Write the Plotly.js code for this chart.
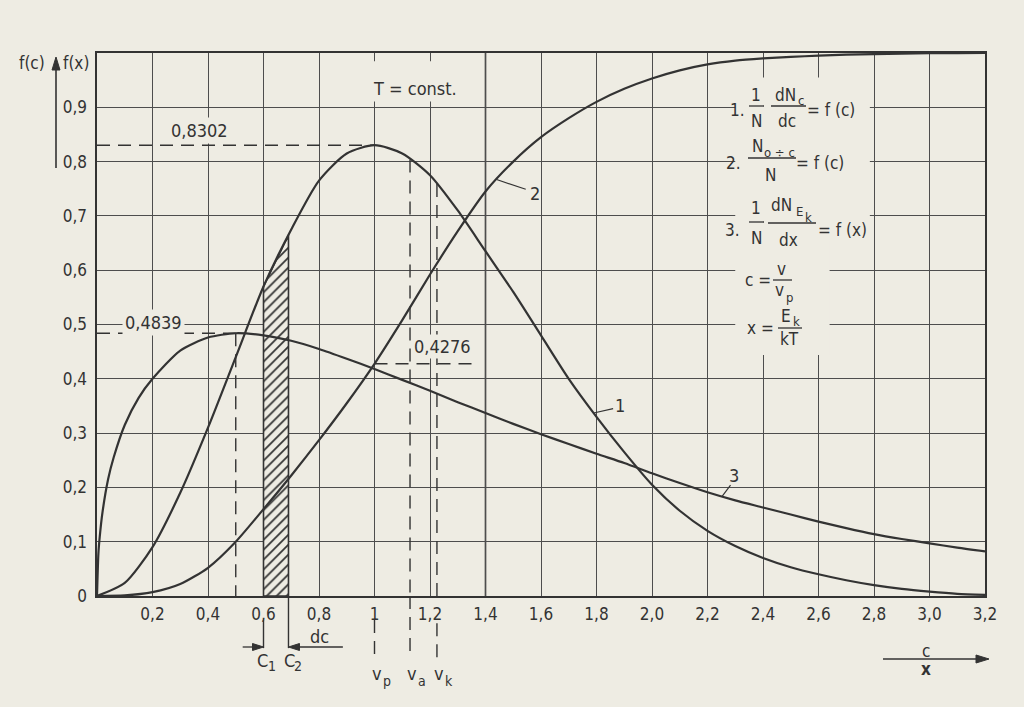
<!DOCTYPE html>
<html>
<head>
<meta charset="utf-8">
<script src="https://cdn.plot.ly/plotly-3.0.1.min.js"></script>
<style>html,body{margin:0;padding:0;background:#eeece3;}#chart{width:1024px;height:707px;}</style>
</head>
<body>
<div id="chart"></div>
<script>
// ---------------- data ----------------
const cVals = [0,0.1,0.2,0.3,0.4,0.5,0.6,0.7,0.8,0.9,1.0,1.1,1.2,1.3,1.4,1.5,1.6,1.7,1.8,1.9,2.0,2.1,2.2,2.3,2.4,2.5,2.6,2.7,2.8,2.9,3.0,3.1,3.2];
// curve 1: (1/N) dNc/dc = f(c)
const f1Vals = [0,0.024,0.09,0.19,0.31,0.44,0.57,0.675,0.765,0.815,0.8302,0.815,0.775,0.71,0.635,0.56,0.48,0.40,0.33,0.265,0.205,0.157,0.12,0.092,0.07,0.053,0.04,0.029,0.02,0.013,0.008,0.004,0.002];
// curve 2: N(0÷c)/N = f(c)
const f2Vals = [0,0.001,0.007,0.022,0.052,0.10,0.16,0.222,0.287,0.355,0.4276,0.508,0.592,0.672,0.745,0.80,0.845,0.88,0.91,0.934,0.953,0.968,0.979,0.986,0.99,0.993,0.995,0.997,0.998,0.999,0.9995,0.9998,1.0];
// curve 3: (1/N) dN_Ek/dx = f(x)
const xVals = [0,0.005,0.01,0.02,0.04,0.06,0.1,0.15,0.2,0.3,0.4,0.5,0.6,0.7,0.8,0.9,1.0,1.1,1.2,1.3,1.4,1.5,1.6,1.7,1.8,1.9,2.0,2.1,2.2,2.3,2.4,2.5,2.6,2.7,2.8,2.9,3.0,3.1,3.2];
const f3Vals = [0,0.078,0.11,0.155,0.215,0.255,0.315,0.365,0.4,0.452,0.476,0.4839,0.48,0.47,0.455,0.437,0.418,0.398,0.378,0.357,0.337,0.317,0.298,0.28,0.262,0.245,0.226,0.208,0.191,0.176,0.163,0.15,0.137,0.125,0.114,0.105,0.097,0.089,0.082];

const xTickVals = [0.2,0.4,0.6,0.8,1.0,1.2,1.4,1.6,1.8,2.0,2.2,2.4,2.6,2.8,3.0,3.2];
const xTickText = ['0,2','0,4','0,6','0,8','1','1,2','1,4','1,6','1,8','2,0','2,2','2,4','2,6','2,8','3,0','3,2'];
const yTickVals = [0,0.1,0.2,0.3,0.4,0.5,0.6,0.7,0.8,0.9];
const yTickText = ['0','0,1','0,2','0,3','0,4','0,5','0,6','0,7','0,8','0,9'];

// marked values
const peak1 = 0.8302, peak1At = 1.0;
const peak3 = 0.4839, peak3At = 0.5;
const f2AtVp = 0.4276;
const vA = 1.128, vK = 1.225;
const cOne = 0.6, cTwo = 0.69;

// ---------------- styling ----------------
const BG = '#eeece3';
const INK = '#333333';
const GRID = '#4d4d4d';
const FONT = 'DejaVu Sans Condensed, DejaVu Sans, sans-serif';
const L = 97, R = 985, T = 53, B = 596, W = R - L, H = B - T;
const XMAX = 3.2;
const DASH = '13px,8px';

function interp(xs, ys, x) {
  for (let i = 0; i < xs.length - 1; i++) {
    if (x >= xs[i] && x <= xs[i + 1]) {
      const t = (x - xs[i]) / (xs[i + 1] - xs[i]);
      return ys[i] + t * (ys[i + 1] - ys[i]);
    }
  }
  return ys[ys.length - 1];
}
const px = p => (p - L) / W;
const py = p => (B - p) / H;
const dataToPx = x => L + x / XMAX * W;

const annotations = [];
const shapes = [];
const MAIN = {family: FONT, size: 17, color: INK};
const SM = {family: FONT, size: 13, color: INK};
function txt(x, y, text, o = {}) {
  annotations.push(Object.assign({
    xref: 'paper', yref: 'paper', x: px(x), y: py(y), text: text, showarrow: false,
    xanchor: 'center', yanchor: 'middle', font: MAIN
  }, o));
}
function stxt(x, y, text) { txt(x, y, text, {font: SM}); }
function pline(x1, x2, y) {
  shapes.push({type: 'line', xref: 'paper', yref: 'paper', x0: px(x1), x1: px(x2), y0: py(y), y1: py(y),
    line: {color: INK, width: 1.3}});
}
function pseg(x1, y1, x2, y2, w) {
  shapes.push({type: 'line', xref: 'paper', yref: 'paper', x0: px(x1), x1: px(x2), y0: py(y1), y1: py(y2),
    line: {color: INK, width: w || 1.3}});
}
// filled arrow head, tip at pixel (tx,ty)
function head(tx, ty, dir, len, half) {
  len = len || 12; half = half || 4;
  let p;
  if (dir === 'up') p = [[tx, ty], [tx - half, ty + len], [tx + half, ty + len]];
  else if (dir === 'right') p = [[tx, ty], [tx - len, ty - half], [tx - len, ty + half]];
  else p = [[tx, ty], [tx + len, ty - half], [tx + len, ty + half]];
  const path = 'M' + p.map(q => px(q[0]) + ',' + py(q[1])).join(' L') + ' Z';
  shapes.push({type: 'path', xref: 'paper', yref: 'paper', path: path,
    fillcolor: INK, line: {color: INK, width: 1}});
}
function dline(x0, y0, x1, y1, yref, dash) {
  shapes.push({type: 'line', xref: 'x', yref: yref || 'y', x0: x0, y0: y0, x1: x1, y1: y1,
    line: {color: INK, width: 1.4, dash: dash || DASH}});
}

// ---------------- traces ----------------
const hx = [cOne, cOne], hy = [0, interp(cVals, f1Vals, cOne)];
cVals.forEach((c, i) => { if (c > cOne && c < cTwo) { hx.push(c); hy.push(f1Vals[i]); } });
hx.push(cTwo, cTwo, cOne); hy.push(interp(cVals, f1Vals, cTwo), 0, 0);

const curveLine = {color: INK, width: 2.2, shape: 'spline', smoothing: 0.7};
const traces = [
  {x: hx, y: hy, type: 'scatter', mode: 'lines', fill: 'toself', fillcolor: BG,
   fillpattern: {shape: '/', size: 7, solidity: 0.25, fgcolor: INK, bgcolor: BG},
   line: {color: INK, width: 1.6}, hoverinfo: 'skip', showlegend: false},
  {x: cVals, y: f1Vals, type: 'scatter', mode: 'lines', line: curveLine, name: '1', showlegend: false},
  {x: cVals, y: f2Vals, type: 'scatter', mode: 'lines', line: curveLine, name: '2', showlegend: false},
  {x: xVals, y: f3Vals, type: 'scatter', mode: 'lines', line: curveLine, name: '3', showlegend: false},
  // paper-coloured boxes behind the texts (hide grid lines)
  {x: [2.30, 2.785, 2.785, 2.64, 2.64, 2.30, 2.30], y: [0.955, 0.955, 0.655, 0.655, 0.444, 0.444, 0.955],
   type: 'scatter', mode: 'none', fill: 'toself', fillcolor: BG, hoverinfo: 'skip', showlegend: false},
  {x: [0.985, 1.33, 1.33, 0.985, 0.985], y: [0.915, 0.915, 0.985, 0.985, 0.915],
   type: 'scatter', mode: 'none', fill: 'toself', fillcolor: BG, hoverinfo: 'skip', showlegend: false}
];

// ---------------- reference lines ----------------
shapes.push({type: 'line', xref: 'x', yref: 'y', x0: 1.4, x1: 1.4, y0: 0, y1: 1, line: {color: INK, width: 1.6}, layer: 'below'});
dline(0, peak1, peak1At, peak1);
dline(0, peak3, peak3At, peak3);
dline(peak3At, peak3, peak3At, 0);
dline(peak1At, f2AtVp, 1.36, f2AtVp);
dline(vA, interp(cVals, f1Vals, vA), vA, 0);
dline(vK, interp(cVals, f1Vals, vK), vK, 0);
// below the axis
dline(peak1At, -0.044, peak1At, -0.114, 'paper');
dline(vA, 0, vA, -0.114, 'paper');
dline(vK, -0.05, vK, -0.114, 'paper');
shapes.push({type: 'line', xref: 'x', yref: 'paper', x0: cOne, x1: cOne, y0: -0.044, y1: -0.096, line: {color: INK, width: 1.4}});
shapes.push({type: 'line', xref: 'x', yref: 'paper', x0: cTwo, x1: cTwo, y0: 0, y1: -0.096, line: {color: INK, width: 1.4}});

// curve number leaders
function leader(x0, y0, x1, y1) {
  shapes.push({type: 'line', xref: 'x', yref: 'y', x0: x0, y0: y0, x1: x1, y1: y1, line: {color: INK, width: 1.2}});
}
const l2y = interp(cVals, f2Vals, 1.44);
leader(1.44, l2y, 1.545, l2y - 0.018);
leader(1.79, interp(cVals, f1Vals, 1.79), 1.86, 0.345);
leader(2.252, interp(xVals, f3Vals, 2.252), 2.283, 0.204);

function dtxt(x, y, text, o = {}) {
  annotations.push(Object.assign({xref: 'x', yref: 'y', x: x, y: y, text: text, showarrow: false,
    xanchor: 'center', yanchor: 'middle', font: {family: FONT, size: 18, color: INK}}, o));
}
dtxt(1.578, l2y - 0.025, '2');
dtxt(1.885, 0.35, '1');
dtxt(2.295, 0.222, '3');
dtxt(0.37, 0.858, '0,8302', {bgcolor: BG, borderpad: 2});
dtxt(0.205, 0.503, '0,4839', {bgcolor: BG, borderpad: 2});
dtxt(1.245, 0.459, '0,4276', {bgcolor: BG, borderpad: 1});
dtxt(1.145, 0.934, 'T = const.', {bgcolor: BG, borderpad: 2});

// ---------------- legend formulas ----------------
txt(737, 110, '1.');
txt(756, 95, '1'); pline(749, 764, 106); txt(756, 121, 'N');
txt(785, 95, 'dN'); stxt(801, 100, 'c'); pline(771, 806, 106); txt(787, 121, 'dc');
txt(831, 110, '= f (c)');

txt(733, 163, '2.');
txt(757, 146, 'N'); stxt(779, 152, 'o ÷ c'); pline(748, 796, 158); txt(770, 175, 'N');
txt(820, 163, '= f (c)');

txt(732, 230, '3.');
txt(756, 208, '1'); pline(749, 764, 222); txt(756, 238, 'N');
txt(781, 205, 'dN'); stxt(799, 211, 'E'); stxt(808, 217, 'k');
pline(768, 816, 223); txt(788, 240, 'dx');
txt(842, 230, '= f (x)');

txt(758, 280, 'c =');
txt(781, 269, 'v'); pline(773, 792, 280); txt(779, 290, 'v'); stxt(789, 297, 'p');
txt(760, 328, 'x =');
txt(786, 316, 'E'); stxt(796, 321, 'k'); pline(778, 802, 328); txt(789, 339, 'kT');

// ---------------- axis labels & arrows ----------------
txt(32, 63, 'f(c)');
txt(76, 63, 'f(x)');
pseg(56, 168, 56, 66, 1.6); head(56, 57, 'up', 13, 4);
pseg(883, 659, 980, 659, 1.3); head(989, 659, 'right', 13, 4);
txt(926, 651, 'c');
txt(926, 669, '<b>x</b>');

// dc arrows & below-axis labels
const dcY = 647;
pseg(dataToPx(0.525), dcY, dataToPx(cOne) - 8, dcY, 1.3); head(dataToPx(cOne), dcY, 'right', 11, 3.5);
pseg(dataToPx(0.886), dcY, dataToPx(cTwo) + 8, dcY, 1.3); head(dataToPx(cTwo), dcY, 'left', 11, 3.5);
function btxt(x, y, text, xs, ys, font) {
  annotations.push({xref: 'x', yref: 'paper', x: x, y: y, text: text, showarrow: false,
    xanchor: 'center', yanchor: 'middle', xshift: xs || 0, yshift: ys || 0,
    font: font || {family: FONT, size: 18, color: INK}});
}
const SUBF = {family: FONT, size: 14, color: INK};
btxt(0.8, -0.0755, 'dc');
btxt(cOne, -0.118, 'C', -1); btxt(cOne, -0.118, '1', 8, -6, SUBF);
btxt(cTwo, -0.118, 'C', 1); btxt(cTwo, -0.118, '2', 10, -6, SUBF);
[[peak1At, 'p'], [vA, 'a'], [vK, 'k']].forEach(([v, s]) => {
  btxt(v, -0.143, 'v', 2); btxt(v, -0.143, s, 12, -7, SUBF);
});

const layout = {
  width: 1024, height: 707,
  margin: {l: L, r: 1024 - R, t: T, b: 707 - B, pad: 0},
  paper_bgcolor: BG, plot_bgcolor: BG,
  showlegend: false,
  font: {family: FONT, size: 17, color: INK},
  xaxis: {range: [0, XMAX], tickmode: 'array', tickvals: xTickVals, ticktext: xTickText,
    showgrid: true, gridcolor: GRID, gridwidth: 1, zeroline: false,
    showline: true, linecolor: INK, linewidth: 1.6, mirror: true, ticks: '',
    ticklabelstandoff: 2, tickfont: {family: FONT, size: 17, color: INK}, fixedrange: true},
  yaxis: {range: [0, 1.0], tickmode: 'array', tickvals: yTickVals, ticktext: yTickText,
    showgrid: true, gridcolor: GRID, gridwidth: 1, zeroline: false,
    showline: true, linecolor: INK, linewidth: 1.6, mirror: true, ticks: '',
    ticklabelstandoff: 5, tickfont: {family: FONT, size: 17, color: INK}, fixedrange: true},
  shapes: shapes,
  annotations: annotations
};

Plotly.newPlot('chart', traces, layout, {displayModeBar: false, staticPlot: true});
</script>
</body>
</html>
